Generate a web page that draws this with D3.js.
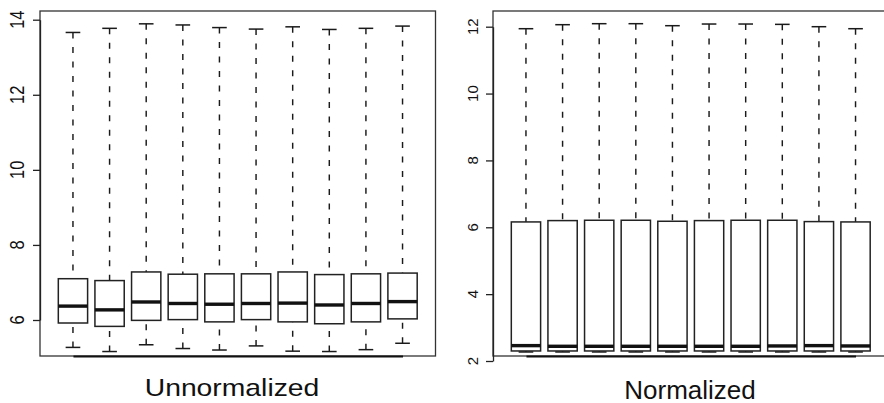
<!DOCTYPE html>
<html>
<head>
<meta charset="utf-8">
<script src="https://cdn.jsdelivr.net/npm/d3@7"></script>
<style>
  html, body { margin: 0; padding: 0; background: #fff; }
  svg { display: block; overflow: hidden; }
  text { font-family: "Liberation Sans", Arial, Helvetica, sans-serif; fill: #111; }
</style>
</head>
<body>
<svg id="chart" width="884" height="403"></svg>
<script>
// Ten arrays, summarised as boxplot statistics
const samples = ["S1", "S2", "S3", "S4", "S5", "S6", "S7", "S8", "S9", "S10"];

// Unnormalized intensities
const rawLower  = [5.27, 5.16, 5.34, 5.24, 5.20, 5.31, 5.17, 5.16, 5.21, 5.38];
const rawQ1     = [5.92, 5.83, 5.99, 6.01, 5.95, 6.01, 5.95, 5.90, 5.95, 6.03];
const rawMedian = [6.37, 6.27, 6.48, 6.44, 6.42, 6.44, 6.45, 6.40, 6.44, 6.49];
const rawQ3     = [7.10, 7.05, 7.28, 7.22, 7.23, 7.23, 7.28, 7.21, 7.23, 7.25];
const rawUpper  = [13.66, 13.77, 13.89, 13.86, 13.79, 13.75, 13.81, 13.74, 13.77, 13.83];
const rawTicks  = [6, 8, 10, 12, 14];

// Normalized intensities
const normLower  = [2.27, 2.27, 2.27, 2.27, 2.27, 2.27, 2.27, 2.27, 2.27, 2.27];
const normQ1     = [2.30, 2.30, 2.30, 2.30, 2.30, 2.30, 2.30, 2.30, 2.30, 2.30];
const normMedian = [2.46, 2.44, 2.44, 2.44, 2.44, 2.44, 2.44, 2.45, 2.46, 2.45];
const normQ3     = [6.16, 6.20, 6.21, 6.21, 6.18, 6.20, 6.21, 6.21, 6.17, 6.16];
const normUpper  = [11.94, 12.06, 12.09, 12.09, 12.03, 12.08, 12.08, 12.07, 12.00, 11.94];
const normTicks  = [2, 4, 6, 8, 10, 12];

const svg = d3.select("#chart");

function boxPanel(opt) {
  const stats = samples.map((s, i) => ({
    name: s, pos: i + 1,
    lo: opt.lower[i], q1: opt.q1[i], med: opt.median[i], q3: opt.q3[i], hi: opt.upper[i]
  }));

  // x: sample positions 1..n with the usual 0.5 + 4% margins
  const x = d3.scaleLinear().domain([0.1, samples.length + 0.9]).range([opt.left, opt.right]);
  const y = d3.scaleLinear().domain(opt.yDomain).range(opt.yRange);
  const step = x(2) - x(1);
  const bw = step * 0.8;

  const g = svg.append("g");

  // plot frame
  g.append("rect")
    .attr("x", opt.left).attr("y", opt.top)
    .attr("width", opt.right - opt.left).attr("height", opt.bottom - opt.top)
    .attr("fill", "none").attr("stroke", "#333").attr("stroke-width", 1.3);

  const box = g.selectAll(".box").data(stats).enter().append("g").attr("class", "box");

  // whiskers (dashed), drawn from the extreme towards the box
  box.append("line")
    .attr("x1", d => x(d.pos)).attr("x2", d => x(d.pos))
    .attr("y1", d => y(d.hi)).attr("y2", d => y(d.q3))
    .attr("stroke", "#1a1a1a").attr("stroke-width", 1.45).attr("stroke-dasharray", "6,8.5");
  box.append("line")
    .attr("x1", d => x(d.pos)).attr("x2", d => x(d.pos))
    .attr("y1", d => y(d.lo)).attr("y2", d => y(d.q1))
    .attr("stroke", "#1a1a1a").attr("stroke-width", 1.45).attr("stroke-dasharray", "6,8.5");

  // staples
  ["hi", "lo"].forEach(k => {
    box.append("line")
      .attr("x1", d => x(d.pos) - bw / 4).attr("x2", d => x(d.pos) + bw / 4)
      .attr("y1", d => y(d[k])).attr("y2", d => y(d[k]))
      .attr("stroke", "#1a1a1a").attr("stroke-width", 1.5);
  });

  // boxes
  box.append("rect")
    .attr("x", d => x(d.pos) - bw / 2).attr("width", bw)
    .attr("y", d => y(d.q3)).attr("height", d => y(d.q1) - y(d.q3))
    .attr("fill", "#fff").attr("stroke", "#222").attr("stroke-width", 1.5);

  // medians
  box.append("line")
    .attr("x1", d => x(d.pos) - bw / 2).attr("x2", d => x(d.pos) + bw / 2)
    .attr("y1", d => y(d.med)).attr("y2", d => y(d.med))
    .attr("stroke", "#111").attr("stroke-width", 3.4);

  // bottom axis line, spanning the first to last sample
  const xa = d3.scalePoint().domain(samples).range([x(1), x(samples.length)]);
  const xAxis = g.append("g").attr("transform", `translate(0,${opt.bottom})`)
    .call(d3.axisBottom(xa).tickSize(0).tickSizeOuter(0).tickFormat(""));
  xAxis.select(".domain").attr("stroke", "#111").attr("stroke-width", 1.8);
  xAxis.selectAll(".tick").remove();

  // left axis with rotated labels
  const yAxis = g.append("g").attr("transform", `translate(${opt.left},0)`)
    .call(d3.axisLeft(y).tickValues(opt.ticks).tickSize(7).tickSizeOuter(0).tickFormat(""));
  yAxis.select(".domain").attr("stroke", "#222").attr("stroke-width", 1.3);
  yAxis.selectAll(".tick line").attr("stroke", "#222").attr("stroke-width", 1.3);
  yAxis.selectAll(".tick text").remove();

  g.selectAll(".ylab").data(opt.ticks).enter().append("text")
    .attr("class", "ylab")
    .attr("transform", d => `translate(${opt.labelX},${y(d)}) scale(${opt.stretch},1) rotate(-90)`)
    .attr("text-anchor", "middle")
    .style("font-size", opt.tickFont + "px")
    .text(d => d);

  // panel title
  g.append("text")
    .attr("transform", `translate(${opt.titleX},${opt.titleY}) scale(${opt.stretch},1)`)
    .attr("text-anchor", "middle")
    .style("font-size", opt.titleFont + "px")
    .text(opt.title);
}

boxPanel({
  lower: rawLower, q1: rawQ1, median: rawMedian, q3: rawQ3, upper: rawUpper,
  ticks: rawTicks, yDomain: [6, 14], yRange: [320, 19.7],
  left: 40, right: 435.5, top: 11, bottom: 356,
  labelX: 24, stretch: 1.18, tickFont: 16.5,
  title: "Unnormalized", titleX: 232, titleY: 396, titleFont: 24
});

boxPanel({
  lower: normLower, q1: normQ1, median: normMedian, q3: normQ3, upper: normUpper,
  ticks: normTicks, yDomain: [2, 12], yRange: [361, 26.7],
  left: 493, right: 888.5, top: 11, bottom: 356,
  labelX: 477.5, stretch: 1.0, tickFont: 15,
  title: "Normalized", titleX: 690, titleY: 398.5, titleFont: 26
});
</script>
</body>
</html>
